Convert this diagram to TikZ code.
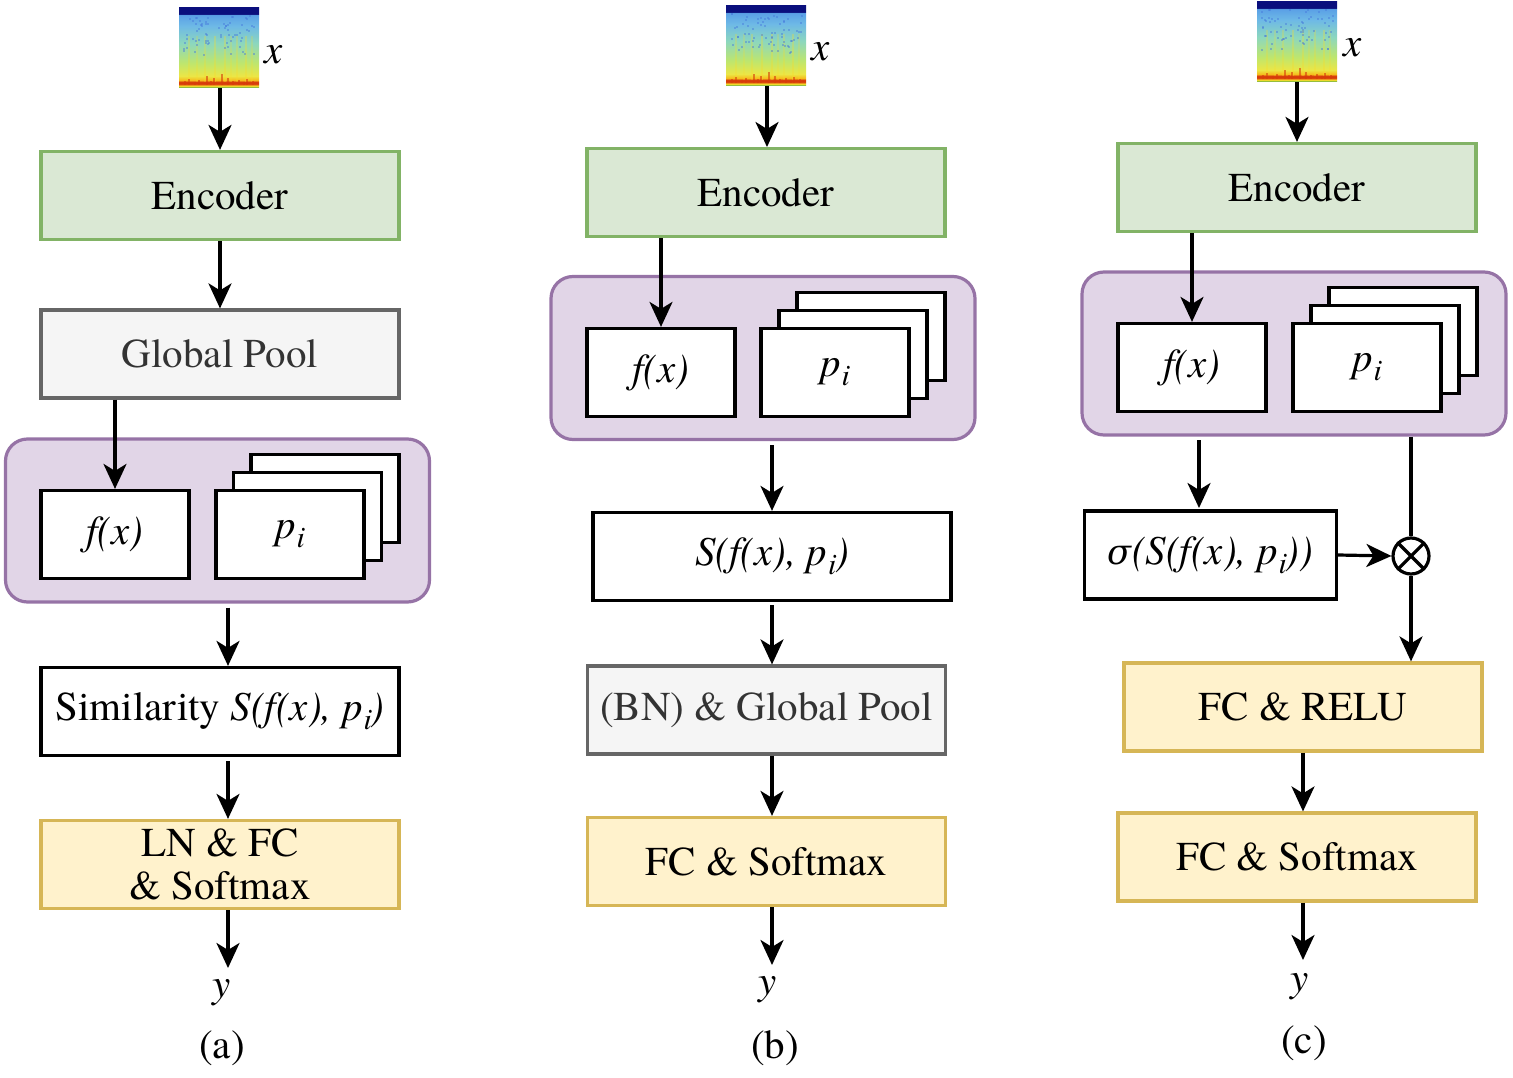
\documentclass[tikz,border=0pt]{standalone}
\usepackage{fontspec}
\setmainfont{texgyretermes}[Extension=.otf, UprightFont=*-regular, ItalicFont=*-italic, BoldFont=*-bold, BoldItalicFont=*-bolditalic]
\newfontfamily\grkfont{DejaVu Serif}[Scale=0.86]
\usetikzlibrary{arrows.meta,calc}
\definecolor{gfill}{HTML}{DAE8D4}
\definecolor{gdraw}{HTML}{82B366}
\definecolor{grfill}{HTML}{F5F5F5}
\definecolor{grdraw}{HTML}{666666}
\definecolor{grtext}{HTML}{333333}
\definecolor{pfill}{HTML}{E1D5E7}
\definecolor{pdraw}{HTML}{9673A6}
\definecolor{yfill}{HTML}{FFF2CC}
\definecolor{ydraw}{HTML}{D6B656}
\definecolor{sgreen}{RGB}{150,190,60}
\definecolor{syellow}{RGB}{250,220,40}
\definecolor{sred}{RGB}{215,60,10}
\definecolor{sorange}{RGB}{245,190,30}
\definecolor{syellowb}{RGB}{235,230,70}
\definecolor{sygreen}{RGB}{190,230,110}
\definecolor{scyan}{RGB}{140,215,190}
\definecolor{sblue}{RGB}{110,185,230}
\definecolor{sblueb}{RGB}{90,160,230}
\definecolor{sdark}{RGB}{10,15,125}
\definecolor{sspeck}{RGB}{70,120,220}
\pgfdeclareverticalshading{spectro}{100bp}{color(0bp)=(sgreen); color(25.9bp)=(sgreen); color(26.3bp)=(syellow); color(27.6bp)=(sred); color(28.7bp)=(sred); color(30bp)=(sorange); color(32.5bp)=(syellowb); color(40.6bp)=(sygreen); color(53bp)=(scyan); color(63.7bp)=(sblue); color(70.6bp)=(sblueb); color(71.3bp)=(sdark); color(100bp)=(sdark)}
\begin{document}
\begin{tikzpicture}[x=1pt,y=-1pt,
  lbl/.style={font=\fontsize{41}{47}\selectfont, inner sep=0pt},
  box/.style={draw=black, line width=3.2pt, fill=white, minimum width=358pt, minimum height=88pt, inner sep=0pt, align=center, font=\fontsize{41}{46}\selectfont},
  sbox/.style={box, minimum width=148pt},
  gbox/.style={box, fill=gfill, draw=gdraw},
  grbox/.style={box, fill=grfill, draw=grdraw, text=grtext},
  ybox/.style={box, fill=yfill, draw=ydraw},
  cont/.style={draw=pdraw, fill=pfill, line width=3.2pt, rounded corners=22pt, minimum width=424pt, minimum height=163pt, inner sep=0pt},
  spec/.style={shading=spectro, minimum width=80pt, minimum height=80pt, inner sep=0pt},
  arr/.style={-{Stealth[length=25pt,width=23pt,inset=7pt]}, line width=3.2pt},
  ln/.style={line width=3.2pt}
]
\useasboundingbox (0,0) rectangle (1513,1078);
\pgfmathsetseed{11}
\newcommand{\streaks}[1]{%
  \foreach \dx/\op in {-30/0.25,-22/0.2,-14/0.25,-4/0.3,6/0.3,12/0.2,18/0.25,27/0.3,33/0.2}{
    \draw[syellow, line width=2pt, opacity=\op] ([xshift=\dx pt,yshift=-28pt]#1.north) -- ([xshift=\dx pt,yshift=6pt]#1.south);}
  \foreach \k in {1,...,70}{
    \pgfmathsetmacro{\rx}{rnd*72-36}
    \pgfmathsetmacro{\ry}{rnd*40+7}
    \fill[sspeck, opacity=0.45] ([xshift=\rx pt,yshift=-\ry pt]#1.north) rectangle ++(2,2);}
  \foreach \dx/\dy in {-34/7,-30/9,-24/6,-20/8,-12/12,-8/7,-5/10,3/14,9/10,14/7,20/8,25/6,28/9,34/7}{
    \draw[sred, line width=2pt, opacity=0.6] ([xshift=\dx pt,yshift=3pt]#1.south) -- ([xshift=\dx pt,yshift=\dy pt]#1.south);}
}
\newcommand{\subi}{\raisebox{-0.22em}{\fontsize{30}{30}\selectfont\kern.03em\textit{i}}}
\newcommand{\pitext}{\textit{p}\subi}
\newcommand{\simtext}{\textit{S(f(x), p}\subi\kern-.03em\textit{)}}

% ---------------- (a)
\node[spec] (sa) at (219,48) {};
\streaks{sa}
\node[lbl] (xa) at (274,55) {\textit{x}};
\node[gbox] (enca) at (220,195.5) {Encoder};
\node[grbox] (gpa) at (220,354) {Global Pool};
\node[cont] (cona) at (217.5,520.5) {};
\node[sbox] (fxa) at (115,534.5) {\textit{f(x)}};
\node[sbox] (pa3) at (325,498.5) {};
\node[sbox] (pa2) at (307.5,516.5) {};
\node[sbox] (pa1) at (290,534.5) {\pitext};
\node[box] (sima) at (220,711.5) {Similarity \simtext};
\node[ybox] (lna) at (220,864.5) {LN \& FC\\[-3pt]\& Softmax};
\node[lbl] (ya) at (222,993) {\textit{y}};
\node[lbl] (la) at (222,1048) {(a)};
\coordinate (ta) at (228,968);
\draw[arr] (enca.north |- sa.south) -- (enca.north);
\draw[arr] (enca.south) -- (gpa.north);
\draw[arr] (fxa.north |- gpa.south) -- (fxa.north);
\draw[arr] ([xshift=8pt]sima.north |- cona.south) ++(0,4) -- ([xshift=8pt]sima.north);
\draw[arr] ([xshift=8pt]lna.north |- sima.south) ++(0,4) -- ([xshift=8pt]lna.north);
\draw[arr] ([xshift=8pt]lna.south) -- (ta);

% ---------------- (b)
\node[spec] (sb) at (766,46) {};
\streaks{sb}
\node[lbl] (xb) at (821,52) {\textit{x}};
\node[gbox] (encb) at (766,192.5) {Encoder};
\node[cont] (conb) at (763,358) {};
\node[sbox] (fxb) at (661,372.5) {\textit{f(x)}};
\node[sbox] (pb3) at (871,336.5) {};
\node[sbox] (pb2) at (853,354.5) {};
\node[sbox] (pb1) at (835,372.5) {\pitext};
\node[box] (simb) at (772,556.5) {\simtext};
\node[grbox] (bnb) at (766.5,710) {(BN) \& Global Pool};
\node[ybox] (fcb) at (766.5,861.5) {FC \& Softmax};
\node[lbl] (yb) at (768,990) {\textit{y}};
\node[lbl] (lb) at (775,1048) {(b)};
\coordinate (tb) at (772,965);
\draw[arr] (sb.south -| 767,0) -- (767,147);
\draw[arr] (fxb.north |- encb.south) -- (fxb.north);
\draw[arr] (simb.north |- conb.south) ++(0,4) -- (simb.north);
\draw[arr] (simb.south) ++(0,3) -- (simb.south |- bnb.north);
\draw[arr] (simb.south |- bnb.south) -- (simb.south |- fcb.north);
\draw[arr] (simb.south |- fcb.south) -- (tb);

% ---------------- (c)
\node[spec] (sc) at (1297,42) {};
\streaks{sc}
\node[lbl] (xc) at (1353,48) {\textit{x}};
\node[gbox] (encc) at (1297,187.5) {Encoder};
\node[cont] (conc) at (1294,353.5) {};
\node[sbox] (fxc) at (1192,367.5) {\textit{f(x)}};
\node[sbox] (pc3) at (1403,331.5) {};
\node[sbox] (pc2) at (1385,349.5) {};
\node[sbox] (pc1) at (1367,367.5) {\pitext};
\node[box, minimum width=252pt] (sigc) at (1210.5,555) {{\grkfont\itshape σ}\textit{(S(f(x), p}\subi\kern-.03em\textit{))}};
\node[draw, line width=3.2pt, circle, minimum size=36pt, inner sep=0pt] (mul) at (1411,556) {};
\draw[ln] (mul.north west) -- (mul.south east);
\draw[ln] (mul.north east) -- (mul.south west);
\node[ybox] (relu) at (1303,707) {FC \& RELU};
\node[ybox] (fcc) at (1297,857) {FC \& Softmax};
\node[lbl] (yc) at (1300,987) {\textit{y}};
\node[lbl] (lc) at (1304,1043) {(c)};
\coordinate (tc) at (1303,960);
\draw[arr] (encc.north |- sc.south) -- (encc.north);
\draw[arr] (fxc.north |- encc.south) -- (fxc.north);
\draw[arr] (1199,440) -- (1199,508);
\draw[arr] (sigc.east) -- (mul.west);
\draw[ln] (mul.north |- conc.south) -- (mul.north);
\draw[arr] (mul.south) -- (mul.south |- relu.north);
\draw[arr] (relu.south) -- (relu.south |- fcc.north);
\draw[arr] (relu.south |- fcc.south) -- (tc);
\end{tikzpicture}
\end{document}
